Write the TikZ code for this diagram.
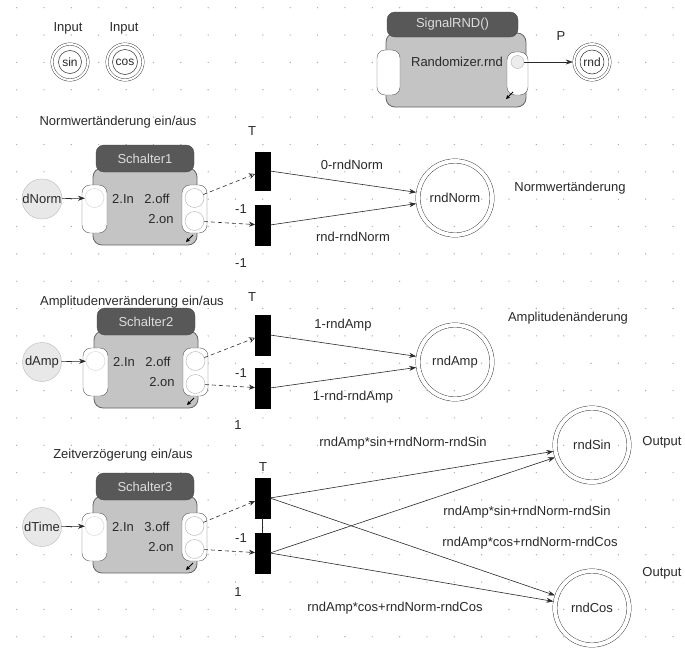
\documentclass[tikz,border=0pt]{standalone}
\usepackage{fontspec}
\setmainfont{Liberation Sans}
\usetikzlibrary{arrows.meta}
\definecolor{hdrfill}{HTML}{585858}
\definecolor{hdrtext}{HTML}{DDDDDD}
\definecolor{bodyfill}{HTML}{C4C4C4}
\definecolor{dotc}{HTML}{AAAAAA}
\definecolor{dfill}{HTML}{E8E8E8}
\definecolor{ink}{HTML}{2A2A2A}
\tikzset{
  every node/.style={inner sep=0pt, outer sep=0pt},
  lbl/.style={text=ink, font=\fontsize{13}{15}\selectfont},
  sbody/.style={draw=black!60, line width=0.8pt, fill=bodyfill, rounded corners=9pt, minimum width=104pt, minimum height=77pt},
  shdr/.style={draw=black!70, fill=hdrfill, text=hdrtext, rounded corners=8pt, minimum width=98pt, minimum height=27pt, font=\fontsize{13}{15}\selectfont},
  port/.style={draw=black!65, fill=white, rounded corners=8pt, minimum width=25pt, minimum height=48pt},
  pcirc/.style={circle, draw=gray!60, minimum size=19pt},
  bar/.style={fill=black, draw=black, minimum width=15pt, minimum height=40pt},
  bigc/.style={circle, draw=ink, double, double distance=4pt, minimum size=74pt, outer sep=2.2pt, text=ink, font=\fontsize{13}{15}\selectfont},
  smallc/.style={circle, draw=ink, double, double distance=2pt, minimum size=36pt, outer sep=1.2pt, text=ink, font=\fontsize{12}{14}\selectfont},
  dcirc/.style={circle, draw=gray!55, fill=dfill, minimum size=39pt, text=ink, font=\fontsize{13}{15}\selectfont},
  arr/.style={draw=ink, line width=0.6pt, -{Stealth[length=7pt,width=5pt]}},
  dsh/.style={draw=ink, line width=0.6pt, dash pattern=on 4pt off 3pt, -{Stealth[length=6pt,width=5pt]}},
  dsho/.style={draw=ink, line width=0.6pt, dash pattern=on 4pt off 3pt, -{Stealth[open,length=6pt,width=6pt]}},
  pics/schalter/.style 2 args={code={
    \node[sbody] (-body) at (0,7.5) {};
    \node[shdr] (-hdr) at (0,-40.5) {#1};
    \node[port] (-lp) at (-50.5,10) {};
    \node[port] (-rp) at (49.5,10) {};
    \node[pcirc, draw=gray!35] (-in) at (-50.5,-1) {};
    \node[pcirc] (-off) at (49.5,-1) {};
    \node[pcirc] (-on) at (49.5,22) {};
    \node[lbl] (-tin) at (-22,0) {2.In};
    \node[lbl] (-toff) at (12,0) {#2};
    \node[lbl] (-ton) at (16,20) {2.on};
    \coordinate (-ka) at (48,36);
    \coordinate (-kb) at (41,43);
    \draw[-{Stealth[length=4pt,width=4pt]}, line width=1pt] (-ka) -- (-kb);
  }}
}
\begin{document}
\begin{tikzpicture}[x=1pt,y=-1pt]
\fill[white] (0,0) rectangle (685,648);
\useasboundingbox (0,0) rectangle (685,648);
% grid dots
\foreach \i in {0,...,24}{
  \foreach \j in {0,...,23}{
    \fill[dotc] (16.7+27.35*\i, 7.7+27.35*\j) circle[radius=0.7pt];
  }
}
% inputs
\node[lbl] (inpA) at (68,28) {Input};
\node[lbl] (inpB) at (124,28) {Input};
\node[smallc] (sin) at (70,62) {sin};
\node[smallc] (cos) at (125,62) {cos};
\draw[ink, line width=0.5pt] (sin) circle[radius=11.5pt];
\draw[ink, line width=0.5pt] (cos) circle[radius=12.5pt];

% SignalRND block
\node[sbody, minimum width=140pt, minimum height=74pt] (rbody) at (456,70) {};
\node[shdr, minimum width=131pt, minimum height=25pt] (rhdr) at (452.5,24.5) {SignalRND()};
\node[port, minimum width=23pt, minimum height=45pt] (rlp) at (388.5,72.5) {};
\node[port, minimum width=21pt, minimum height=43pt] (rrp) at (517.5,73.5) {};
\node[pcirc, minimum size=13pt, fill=gray!15] (rout) at (517.5,62) {};
\node[lbl] (rtxt) at (457,62) {Randomizer.rnd};
\coordinate (rka) at (513,92);
\coordinate (rkb) at (506,99);
\draw[-{Stealth[length=4pt,width=4pt]}, line width=1pt] (rka) -- (rkb);
\node[smallc] (rnd) at (592,62) {rnd};
\draw[ink, line width=0.5pt] (rnd) circle[radius=12pt];
\node[lbl] (lP) at (561,36) {P};
\draw[arr] (rout) -- (rnd);

% ---------- Schalter1 ----------
\node[lbl] (t1) at (118,122) {Normwertänderung ein/aus};
\pic (s1) at (145,199) {schalter={Schalter1}{2.off}};
\node[dcirc] (dNorm) at (42,199) {dNorm};
\node[bar, minimum height=38pt] (b1a) at (262.5,171) {};
\node[bar] (b1b) at (262.5,225) {};
\node[lbl] (T1) at (252,131) {T};
\node[lbl] (m1a) at (241,209) {-1};
\node[lbl] (m1b) at (241,263) {-1};
\node[bigc] (rndNorm) at (455,198) {rndNorm};
\node[lbl] (e1a) at (352,165) {0-rndNorm};
\node[lbl] (e1b) at (353,237) {rnd-rndNorm};
\node[lbl] (n1) at (570,188) {Normwertänderung};
\draw[arr] (dNorm) -- (s1-in);
\draw[dsho] (s1-off) -- (b1a);
\draw[dsh] (s1-on) -- (b1b);
\draw[arr] (b1a.east) -- (rndNorm);
\draw[arr] (b1b.east) -- (rndNorm);

% ---------- Schalter2 ----------
\node[lbl] (t2) at (132,302) {Amplitudenveränderung ein/aus};
\pic (s2) at (146,362) {schalter={Schalter2}{2.off}};
\node[dcirc] (dAmp) at (42,362) {dAmp};
\node[bar] (b2a) at (262.5,335) {};
\node[bar] (b2b) at (262.5,388) {};
\node[lbl] (T2) at (252,297) {T};
\node[lbl] (m2a) at (241,373) {-1};
\node[lbl] (p2b) at (238,425) {1};
\node[bigc] (rndAmp) at (455,362) {rndAmp};
\node[lbl] (e2a) at (343,325) {1-rndAmp};
\node[lbl] (e2b) at (353,397) {1-rnd-rndAmp};
\node[lbl] (n2) at (568,318) {Amplitudenänderung};
\draw[arr] (dAmp) -- (s2-in);
\draw[dsho] (s2-off) -- (b2a);
\draw[dsh] (s2-on) -- (b2b);
\draw[arr] (b2a.east) -- (rndAmp);
\draw[arr] (b2b.east) -- (rndAmp);

% ---------- Schalter3 ----------
\node[lbl] (t3) at (123,455) {Zeitverzögerung ein/aus};
\pic (s3) at (145,527) {schalter={Schalter3}{3.off}};
\node[dcirc] (dTime) at (42,527) {dTime};
\node[bar] (b3a) at (262.5,498) {};
\node[bar] (b3b) at (262.5,553) {};
\draw[ink, line width=0.6pt] (b3a) -- (b3b);
\node[lbl] (T3) at (263,467) {T};
\node[lbl] (m3a) at (241,538) {-1};
\node[lbl] (p3b) at (238,592) {1};
\node[bigc] (rndSin) at (592,445) {rndSin};
\node[bigc] (rndCos) at (592,608) {rndCos};
\node[lbl] (e3a) at (403,443) {rndAmp*sin+rndNorm-rndSin};
\node[lbl] (e3b) at (527,512) {rndAmp*sin+rndNorm-rndSin};
\node[lbl] (e3c) at (530,543) {rndAmp*cos+rndNorm-rndCos};
\node[lbl] (e3d) at (395,608) {rndAmp*cos+rndNorm-rndCos};
\node[lbl] (o1) at (662,442) {Output};
\node[lbl] (o2) at (662,573) {Output};
\draw[arr] (dTime) -- (s3-in);
\draw[dsh] (s3-off) -- (b3a);
\draw[dsh] (s3-on) -- (b3b);
\draw[arr] (b3a.east) -- (rndSin);
\draw[arr] (b3b.east) -- (rndSin);
\draw[arr] (b3a.east) -- (rndCos);
\draw[arr] (b3b.east) -- (rndCos);
\end{tikzpicture}
\end{document}
